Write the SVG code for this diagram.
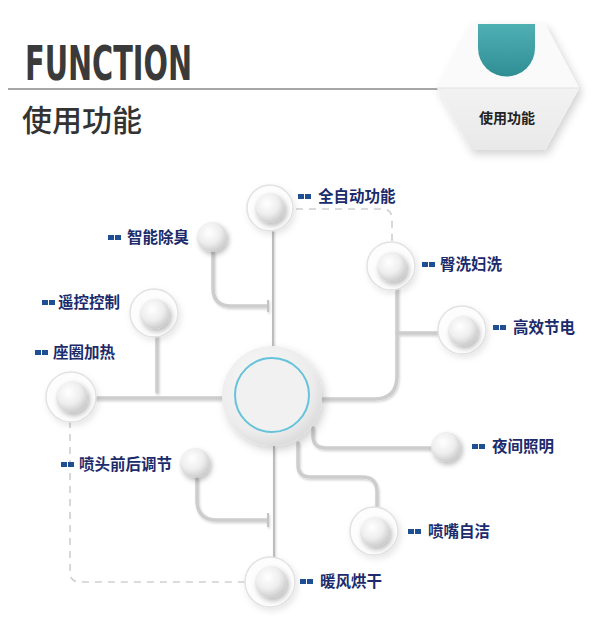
<svg xmlns="http://www.w3.org/2000/svg" width="607" height="641" viewBox="0 0 607 641">
<defs>
<style>
.lbl{font-family:"Noto Sans CJK SC","Noto Sans",sans-serif;font-weight:700;font-size:15.5px;fill:#1c2b6b}
.ic{fill:#1f4f93}
.c{fill:none;stroke:#cdcdcd;stroke-width:3.5;stroke-linecap:round;stroke-linejoin:round}
.thin{fill:none;stroke:#bcbcbc;stroke-width:2}
.tick{fill:none;stroke:#c4c4c4;stroke-width:2}
.dash{fill:none;stroke:#cfcfcf;stroke-width:1.6;stroke-dasharray:7 6}
.sph{fill:url(#sg);filter:url(#sh)}
.ring{fill:#fdfdfd;stroke:#e2e2e2;stroke-width:1.5;filter:url(#rs)}
</style>
<radialGradient id="sg" cx="40%" cy="35%" r="68%">
<stop offset="0" stop-color="#ffffff"/>
<stop offset="0.55" stop-color="#eeeeee"/>
<stop offset="1" stop-color="#c9c9c9"/>
</radialGradient>
<radialGradient id="cg" cx="42%" cy="38%" r="70%">
<stop offset="0" stop-color="#fbfbfb"/>
<stop offset="0.7" stop-color="#ececec"/>
<stop offset="1" stop-color="#d4d4d4"/>
</radialGradient>
<linearGradient id="hexb" x1="0" y1="0" x2="0" y2="1">
<stop offset="0" stop-color="#f2f2f2"/>
<stop offset="1" stop-color="#e9e9e9"/>
</linearGradient>
<linearGradient id="teal" x1="0" y1="0" x2="0" y2="1">
<stop offset="0" stop-color="#4fb0b4"/>
<stop offset="1" stop-color="#2f8e94"/>
</linearGradient>
<filter id="sh" x="-50%" y="-50%" width="200%" height="200%">
<feDropShadow dx="2" dy="3" stdDeviation="2.5" flood-color="#000" flood-opacity="0.25"/>
</filter>
<filter id="rs" x="-50%" y="-50%" width="200%" height="200%">
<feDropShadow dx="2" dy="3" stdDeviation="3" flood-color="#000" flood-opacity="0.1"/>
</filter>
<filter id="cs" x="-50%" y="-50%" width="200%" height="200%">
<feDropShadow dx="3" dy="4" stdDeviation="4" flood-color="#000" flood-opacity="0.18"/>
</filter>
<filter id="ls" x="-20%" y="-20%" width="140%" height="140%">
<feDropShadow dx="1" dy="1.5" stdDeviation="1" flood-color="#000" flood-opacity="0.18"/>
</filter>
</defs>
<rect width="607" height="641" fill="#ffffff"/>

<g id="header">
<text x="25" y="80" font-family="'DejaVu Sans Condensed','Liberation Sans',sans-serif" font-weight="700" font-size="48" fill="#3a3a3a" textLength="167" lengthAdjust="spacingAndGlyphs">FUNCTION</text>
<line x1="8" y1="89" x2="440" y2="89" stroke="#8a8a8a" stroke-width="1.6"/>
<text x="22" y="131" font-family="'Noto Sans CJK SC','Noto Sans',sans-serif" font-weight="500" font-size="30" fill="#333333">使用功能</text>
</g>

<g id="hex">
<polygon points="471,24 545,24 579,88 545,150 471,150 437,88" fill="#fafafa" filter="url(#cs)"/>
<polygon points="437,88 579,88 545,150 471,150" fill="url(#hexb)"/>
<line x1="437" y1="88" x2="579" y2="88" stroke="#e2e2e2" stroke-width="1"/>
<path d="M478 24 H535 V48 A28.5 28.5 0 0 1 478 48 Z" fill="url(#teal)"/>
<text x="507" y="123" text-anchor="middle" font-family="'Noto Sans CJK SC','Noto Sans',sans-serif" font-weight="700" font-size="14" fill="#222222">使用功能</text>
</g>

<g id="connectors">
<path class="dash" d="M296 209 H382 Q392 209 392 219 V243"/>
<path class="dash" d="M70 421 V572 Q70 582 80 582 H248"/>
<g filter="url(#ls)">
<path class="thin" d="M273 224 V348"/>
<path class="thin" d="M274 446 V566"/>
<path class="c" d="M213 252 V288 Q213 306 231 306 H267"/>
<path class="tick" d="M268 300 V312"/>
<path class="c" d="M157 330 V392"/>
<path class="c" d="M88 398 H224"/>
<path class="c" d="M397 283 V376 Q397 399 374 399 H321"/>
<path class="c" d="M397 333 H447"/>
<path class="c" d="M313 428 V436 Q313 448 326 448 H432"/>
<path class="c" d="M298 443 V465 Q298 477 310 477 H362 Q377 477 377 492 V516"/>
<path class="c" d="M197 478 V500 Q197 520 217 520 H267"/>
<path class="tick" d="M268 513 V527"/>
</g>
</g>

<g id="center">
<circle cx="272" cy="396" r="50" fill="url(#cg)" filter="url(#cs)"/>
<circle cx="272" cy="395" r="37" fill="#f1f1f1" stroke="#66c3da" stroke-width="2"/>
</g>

<g id="n-quanzidong">
<circle class="ring" cx="270" cy="208" r="23"/>
<circle class="sph" cx="270" cy="208" r="15"/>
<rect class="ic" x="298" y="194" width="6" height="5"/><rect class="ic" x="305" y="194" width="6" height="5"/>
<text class="lbl" x="318" y="202">全自动功能</text>
</g>

<g id="n-zhineng">
<circle class="sph" cx="212" cy="237" r="15"/>
<rect class="ic" x="108" y="235" width="6" height="5"/><rect class="ic" x="115" y="235" width="6" height="5"/>
<text class="lbl" x="127" y="243">智能除臭</text>
</g>

<g id="n-yaokong">
<circle class="ring" cx="154" cy="313" r="24"/>
<circle class="sph" cx="155" cy="314" r="15"/>
<rect class="ic" x="42" y="300" width="6" height="5"/><rect class="ic" x="49" y="300" width="6" height="5"/>
<text class="lbl" x="58" y="308">遥控控制</text>
</g>

<g id="n-zuoquan">
<circle class="ring" cx="71" cy="397" r="25"/>
<circle class="sph" cx="72" cy="397" r="16"/>
<rect class="ic" x="35" y="350" width="6" height="5"/><rect class="ic" x="42" y="350" width="6" height="5"/>
<text class="lbl" x="53" y="358">座圈加热</text>
</g>

<g id="n-pentou">
<circle class="sph" cx="195" cy="463" r="15"/>
<rect class="ic" x="61" y="462" width="6" height="5"/><rect class="ic" x="68" y="462" width="6" height="5"/>
<text class="lbl" x="79" y="470">喷头前后调节</text>
</g>

<g id="n-nuanfeng">
<circle class="ring" cx="270" cy="582" r="25"/>
<circle class="sph" cx="271" cy="582" r="16"/>
<rect class="ic" x="300" y="579" width="6" height="5"/><rect class="ic" x="307" y="579" width="6" height="5"/>
<text class="lbl" x="320" y="587">暖风烘干</text>
</g>

<g id="n-penzui">
<circle class="ring" cx="374" cy="531" r="24"/>
<circle class="sph" cx="375" cy="532" r="15"/>
<rect class="ic" x="408" y="529" width="6" height="5"/><rect class="ic" x="415" y="529" width="6" height="5"/>
<text class="lbl" x="428" y="537">喷嘴自洁</text>
</g>

<g id="n-yejian">
<circle class="sph" cx="446" cy="447" r="15"/>
<rect class="ic" x="472" y="444" width="6" height="5"/><rect class="ic" x="479" y="444" width="6" height="5"/>
<text class="lbl" x="492" y="452">夜间照明</text>
</g>

<g id="n-gaoxiao">
<circle class="ring" cx="462" cy="330" r="24"/>
<circle class="sph" cx="463" cy="331" r="15"/>
<rect class="ic" x="493" y="325" width="6" height="5"/><rect class="ic" x="500" y="325" width="6" height="5"/>
<text class="lbl" x="513" y="333">高效节电</text>
</g>

<g id="n-tunxi">
<circle class="ring" cx="391" cy="266" r="24"/>
<circle class="sph" cx="392" cy="267" r="15"/>
<rect class="ic" x="422" y="262" width="6" height="5"/><rect class="ic" x="429" y="262" width="6" height="5"/>
<text class="lbl" x="440" y="270">臀洗妇洗</text>
</g>
</svg>
